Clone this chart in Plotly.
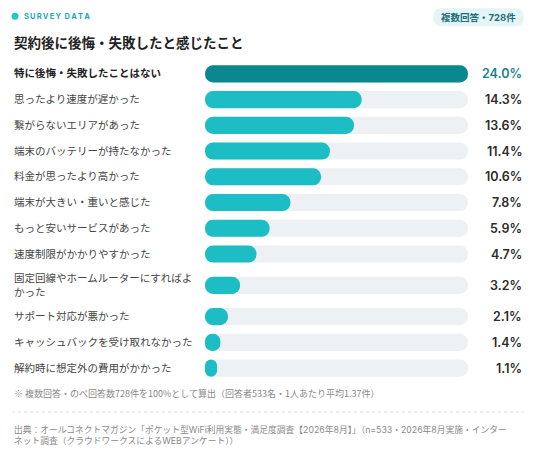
import plotly.graph_objects as go

categories = [
    "特に後悔・失敗したことはない",
    "思ったより速度が遅かった",
    "繋がらないエリアがあった",
    "端末のバッテリーが持たなかった",
    "料金が思ったより高かった",
    "端末が大きい・重いと感じた",
    "もっと安いサービスがあった",
    "速度制限がかかりやすかった",
    "固定回線やホームルーターにすればよ<br>かった",
    "サポート対応が悪かった",
    "キャッシュバックを受け取れなかった",
    "解約時に想定外の費用がかかった",
]
values = [24.0, 14.3, 13.6, 11.4, 10.6, 7.8, 5.9, 4.7, 3.2, 2.1, 1.4, 1.1]
value_labels = ["24.0%", "14.3%", "13.6%", "11.4%", "10.6%", "7.8%", "5.9%", "4.7%", "3.2%", "2.1%", "1.4%", "1.1%"]

title = "契約後に後悔・失敗したと感じたこと"
kicker = "SURVEY DATA"
badge = "複数回答・728件"
note = "※ 複数回答・のべ回答数728件を100%として算出（回答者533名・1人あたり平均1.37件）"
source = ("出典：オールコネクトマガジン「ポケット型WiFi利用実態・満足度調査【2026年8月】」（n=533・2026年8月実施・インター<br>"
          "ネット調査（クラウドワークスによるWEBアンケート））")

W, H = 536, 452
ML, MR = 205, 68
row_px = 25.7
heights = [1.43 if "<br>" in c else 1.0 for c in categories]
ypos = []
acc = 0.0
for h in heights:
    ypos.append(acc + h / 2)
    acc += h
total = acc
MT = 74 - 0.5 * row_px
plot_h = total * row_px
MB = H - MT - plot_h
xmax = max(values)

def px2x(px):
    return (px - ML) / (W - ML - MR)

def px2y(py):
    return (MT + plot_h - py) / plot_h

FONT = "Inter, 'Noto Sans CJK JP', sans-serif"
bar_w = 17 / row_px
n = len(values)

fig = go.Figure()
# an explicit base makes plotly round both ends of each bar (pill shape)
fig.add_trace(go.Bar(
    y=ypos, x=[xmax] * n, base=[0] * n, orientation="h",
    width=[bar_w] * n,
    marker=dict(color="#edf1f4", line=dict(width=0), cornerradius=8.5),
    hoverinfo="skip", showlegend=False,
))
colors = ["#0b888f"] + ["#1cbdc4"] * (n - 1)
fig.add_trace(go.Bar(
    y=ypos, x=values, base=[0] * n, orientation="h",
    width=[bar_w] * n,
    marker=dict(color=colors, line=dict(width=0), cornerradius=8.5),
    hovertemplate="%{x}%<extra></extra>", showlegend=False,
))

ann = []
for i, (c, v, y) in enumerate(zip(categories, value_labels, ypos)):
    first = i == 0
    ann.append(dict(
        x=px2x(12), xref="paper", y=y, yref="y", text=("<b>%s</b>" % c) if first else c,
        xanchor="left", yanchor="middle", align="left", showarrow=False,
        font=dict(family=FONT, size=10.5, color="#222" if first else "#454545"),
    ))
    ann.append(dict(
        x=px2x(524), xref="paper", y=y, yref="y", text=v,
        xanchor="right", yanchor="middle", showarrow=False,
        font=dict(family=FONT, size=12.5, color="#15828b" if first else "#2b2b2b", weight=600),
    ))

ann.append(dict(x=px2x(22), xref="paper", y=px2y(16.5), yref="paper",
                text="\u2009".join(list(kicker)).replace("\u2009 \u2009", "\u2002"),
                xanchor="left", yanchor="middle", showarrow=False,
                font=dict(family=FONT, size=7.5, color="#1aa9b2", weight=700)))
ann.append(dict(x=px2x(12), xref="paper", y=px2y(43), yref="paper", text="<b>%s</b>" % title,
                xanchor="left", yanchor="middle", showarrow=False,
                font=dict(family=FONT, size=13.5, color="#222")))
ann.append(dict(x=px2x(478.5), xref="paper", y=px2y(17.5), yref="paper", text="<b>%s</b>" % badge,
                xanchor="center", yanchor="middle", showarrow=False,
                font=dict(family=FONT, size=9.5, color="#1d6d77")))
ann.append(dict(x=px2x(12), xref="paper", y=px2y(393), yref="paper", text=note,
                xanchor="left", yanchor="middle", showarrow=False,
                font=dict(family="'Noto Sans CJK JP', sans-serif", size=9, color="#8a8a8a")))
ann.append(dict(x=px2x(12), xref="paper", y=px2y(434.5), yref="paper", text=source,
                xanchor="left", yanchor="middle", align="left", showarrow=False,
                font=dict(family=FONT, size=8.75, color="#8a8a8a")))

def pill(x0, y0, x1, y1):
    r = (y1 - y0) / 2
    pts = [
        ("M", x0 + r, y0), ("L", x1 - r, y0), ("Q", x1, y0, x1, y0 + r), ("Q", x1, y1, x1 - r, y1),
        ("L", x0 + r, y1), ("Q", x0, y1, x0, y0 + r), ("Q", x0, y0, x0 + r, y0),
    ]
    s = ""
    for p in pts:
        if p[0] == "Q":
            s += "Q%.5f,%.5f %.5f,%.5f " % (px2x(p[1]), px2y(p[2]), px2x(p[3]), px2y(p[4]))
        else:
            s += "%s%.5f,%.5f " % (p[0], px2x(p[1]), px2y(p[2]))
    return s + "Z"

shapes = [
    dict(type="path", xref="paper", yref="paper", path=pill(433, 8.5, 524, 26.5),
         fillcolor="#e4f5f8", line=dict(width=0), layer="below"),
    dict(type="circle", xref="paper", yref="paper",
         x0=px2x(11.5), x1=px2x(18.5), y0=px2y(13), y1=px2y(20),
         fillcolor="#1ec6cf", line=dict(width=0)),
    dict(type="line", xref="paper", yref="paper", x0=px2x(12), x1=px2x(524),
         y0=px2y(411.5), y1=px2y(411.5), line=dict(color="#dcdcdc", width=1, dash="dot")),
]

fig.update_layout(
    width=W, height=H,
    margin=dict(l=ML, r=MR, t=MT, b=MB),
    paper_bgcolor="#ffffff", plot_bgcolor="rgba(0,0,0,0)",
    barmode="overlay",
    xaxis=dict(range=[0, xmax], visible=False, fixedrange=True),
    yaxis=dict(range=[total, 0], visible=False, fixedrange=True),
    annotations=ann, shapes=shapes,
    font=dict(family=FONT),
)
fig.write_html("out.html", config={"displayModeBar": False},
               post_script="document.body.style.margin='0';document.body.style.overflow='hidden';")
